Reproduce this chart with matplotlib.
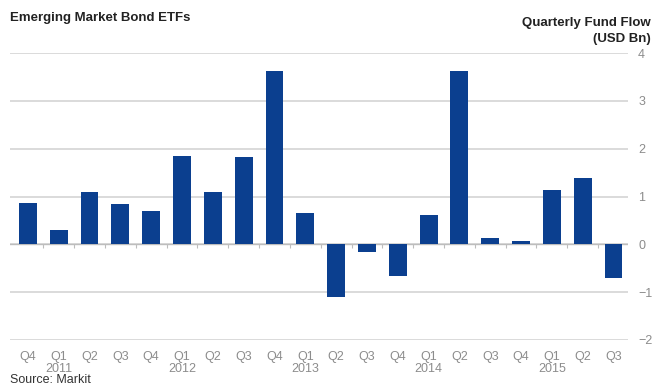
import matplotlib
matplotlib.use('Agg')
from matplotlib import pyplot as plt
from matplotlib import font_manager

quarters = ['Q4', 'Q1', 'Q2', 'Q3', 'Q4', 'Q1', 'Q2', 'Q3', 'Q4', 'Q1',
            'Q2', 'Q3', 'Q4', 'Q1', 'Q2', 'Q3', 'Q4', 'Q1', 'Q2', 'Q3']
years = ['', '2011', '', '', '', '2012', '', '', '', '2013',
         '', '', '', '2014', '', '', '', '2015', '', '']
flows = [0.86, 0.31, 1.09, 0.84, 0.69, 1.84, 1.09, 1.82, 3.62, 0.65,
         -1.11, -0.17, -0.67, 0.61, 3.62, 0.13, 0.06, 1.13, 1.38, -0.71]
yticks = [-2, -1, 0, 1, 2, 3, 4]

names = {f.name for f in font_manager.fontManager.ttflist}
narrow = 'Liberation Sans Narrow' if 'Liberation Sans Narrow' in names else 'Liberation Sans'
plt.rcParams['font.family'] = [narrow, 'DejaVu Sans']

bar_color = '#0b3f8f'
grid_color = '#d4d4d4'
label_color = '#8c8c8c'

fig = plt.figure(figsize=(6.55, 3.85), dpi=100)
ax = fig.add_axes([0.0153, 0.117, 0.944, 0.745])

x = list(range(len(flows)))
ax.bar(x, flows, width=0.58, color=bar_color, zorder=3)

ax.set_ylim(-2, 4)
ax.set_xlim(-0.58, len(flows) - 0.52)
ax.set_yticks(yticks)
ax.yaxis.tick_right()
ax.tick_params(axis='y', length=0, pad=7, labelsize=9, labelcolor=label_color,
               labelfontfamily='Liberation Sans')
ax.grid(axis='y', color=grid_color, linewidth=1.2, zorder=0)
ax.axhline(0, color='#bdbdbd', linewidth=1, zorder=2)

labels = [q + '\n' + y if y else q for q, y in zip(quarters, years)]
ax.set_xticks(x)
ax.set_xticklabels(labels, fontsize=9, color=label_color, linespacing=1.0,
                   fontfamily='Liberation Sans', va='top', ha='center',
                   multialignment='center')
ax.tick_params(axis='x', length=0, pad=8)

for s in ax.spines.values():
    s.set_visible(False)

# small ticks on the zero line between bars
zero_pos = 2 / 6
sec = ax.secondary_xaxis(zero_pos)
sec.set_xticks([i + 0.5 for i in range(len(flows) - 1)])
sec.set_xticklabels([])
sec.tick_params(axis='x', direction='out', length=3, color='#bdbdbd', width=0.8)
sec.spines['bottom'].set_visible(False)
sec.spines['top'].set_visible(False)

fig.text(0.0153, 0.953, 'Emerging Market Bond ETFs', fontsize=9.5,
         fontweight='bold', color='#222222', ha='left', va='center')
fig.text(0.993, 0.94, 'Quarterly Fund Flow', fontsize=9.5,
         fontweight='bold', color='#222222', ha='right', va='center')
fig.text(0.993, 0.898, '(USD Bn)', fontsize=9.5,
         fontweight='bold', color='#222222', ha='right', va='center')
fig.text(0.0153, -0.002, 'Source: Markit', fontsize=9, color='#333333',
         ha='left', va='bottom', fontfamily='Liberation Sans')

plt.savefig('out.png', dpi=100)
